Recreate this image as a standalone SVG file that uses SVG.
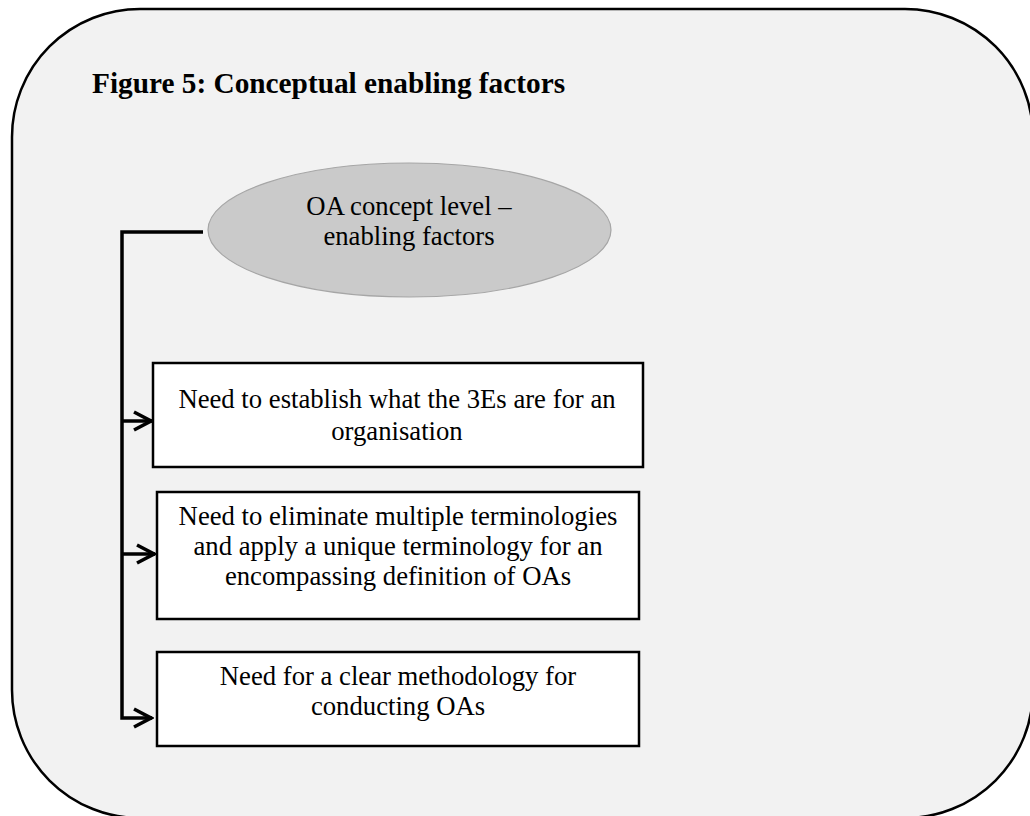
<svg xmlns="http://www.w3.org/2000/svg" width="1030" height="816" viewBox="0 0 1030 816">
  <style>
    .frame { fill: #f2f2f2; stroke: #000; stroke-width: 2.5; }
    .title { font-family: "Liberation Serif", "Times New Roman", serif; font-size: 29.3px; font-weight: bold; fill: #000; }
    .label { font-family: "Liberation Serif", "Times New Roman", serif; font-size: 26.7px; fill: #000; text-anchor: middle; }
    .hub { fill: #cacaca; stroke: #a6a6a6; stroke-width: 1.2; }
    .box { fill: #fff; stroke: #000; stroke-width: 2.5; }
    .wire { fill: none; stroke: #000; stroke-width: 3.5; }
  </style>
  <defs>
    <marker id="chevron" viewBox="0 0 22 22" refX="20" refY="11" markerWidth="22" markerHeight="22" markerUnits="userSpaceOnUse" orient="auto">
      <path d="M2,2 L19,11 L2,20" fill="none" stroke="#000" stroke-width="3.5"/>
    </marker>
  </defs>

  <!-- background panel -->
  <rect class="frame" x="12" y="9" width="1021" height="809" rx="128" ry="128"/>

  <text class="title" x="92" y="93">Figure 5: Conceptual enabling factors</text>

  <!-- connectors: spine from the hub with a branch into each factor box -->
  <g id="connectors">
    <path class="wire" d="M203,232 H122 V718 H152" marker-end="url(#chevron)"/>
    <path class="wire" d="M122,421 H152" marker-end="url(#chevron)"/>
    <path class="wire" d="M122,554 H155" marker-end="url(#chevron)"/>
  </g>

  <g id="hub">
    <ellipse class="hub" cx="409.5" cy="230" rx="201.5" ry="67"/>
    <text class="label" x="409" y="215">OA concept level –</text>
    <text class="label" x="409" y="245">enabling factors</text>
  </g>

  <g id="factor-3es">
    <rect class="box" x="153" y="363" width="490" height="104"/>
    <text class="label" x="397" y="408">Need to establish what the 3Es are for an</text>
    <text class="label" x="397" y="440">organisation</text>
  </g>

  <g id="factor-terminology">
    <rect class="box" x="157" y="492" width="482" height="127"/>
    <text class="label" x="398" y="525">Need to eliminate multiple terminologies</text>
    <text class="label" x="398" y="555">and apply a unique terminology for an</text>
    <text class="label" x="398" y="585">encompassing definition of OAs</text>
  </g>

  <g id="factor-methodology">
    <rect class="box" x="157" y="652" width="482" height="94"/>
    <text class="label" x="398" y="685">Need for a clear methodology for</text>
    <text class="label" x="398" y="715">conducting OAs</text>
  </g>
</svg>
